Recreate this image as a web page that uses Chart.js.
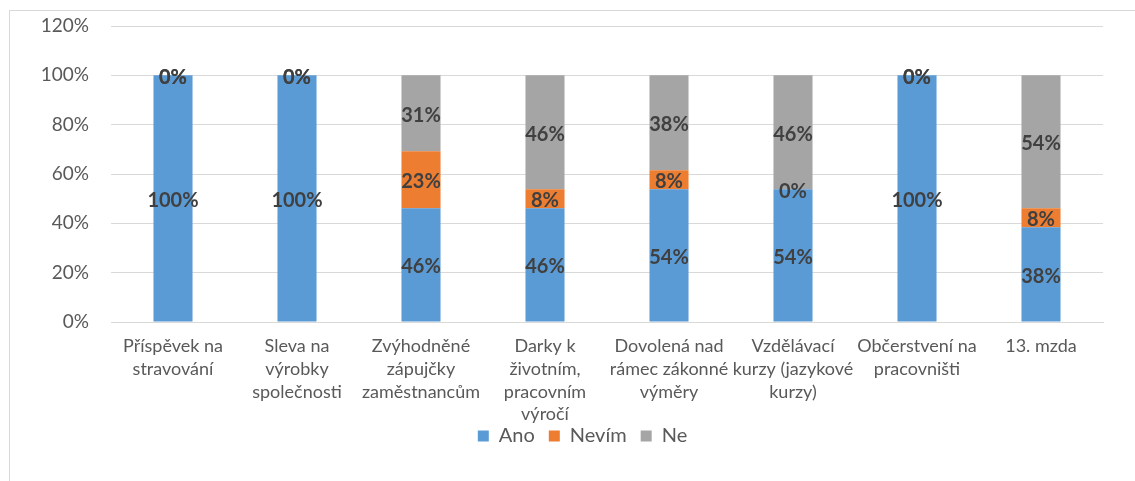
<!DOCTYPE html>
<html>
<head>
<meta charset="utf-8">
<script src="https://cdn.jsdelivr.net/npm/chart.js@4/dist/chart.umd.min.js"></script>
<style>
  html, body { margin: 0; padding: 0; background: #ffffff; }
  #frame { position: absolute; left: 9px; top: 10px; width: 1140px; height: 480px; border: 1px solid #d9d9d9; box-sizing: border-box; }
  #wrap { position: absolute; left: 0; top: 0; width: 1135px; height: 481px; }
</style>
</head>
<body>
<div id="frame"></div>
<div id="wrap"><canvas id="c"></canvas></div>
<script>
const categories = [
  ["Příspěvek na", "stravování"],
  ["Sleva na", "výrobky", "společnosti"],
  ["Zvýhodněné", "zápujčky", "zaměstnancům"],
  ["Darky k", "životním,", "pracovním", "výročí"],
  ["Dovolená nad", "rámec zákonné", "výměry"],
  ["Vzdělávací", "kurzy (jazykové", "kurzy)"],
  ["Občerstvení na", "pracovništi"],
  ["13. mzda"]
];
const seriesNames = ["Ano", "Nevím", "Ne"];
const ano   = [100, 100, 46.15, 46.15, 53.85, 53.85, 100, 38.46];
const nevim = [0, 0, 23.08, 7.69, 7.69, 0, 0, 7.69];
const ne    = [0, 0, 30.77, 46.15, 38.46, 46.15, 0, 53.85];
const yTicks = [0, 20, 40, 60, 80, 100, 120];

const colors = ["#5B9BD5", "#ED7D31", "#A5A5A5"];
const FONT = "Lato, 'Open Sans', sans-serif";
const PLOT_BOTTOM = 322;

const labelPlugin = {
  id: "segLabels",
  afterLayout(chart) {
    const lg = chart.legend;
    if (lg) {
      const h = lg.height;
      lg.left += 31; lg.right += 31;
      const ih = lg._itemHeight || 24;
      lg.top = 438 - 14 - ih / 2;
      lg.bottom = lg.top + h;
    }
  },
  afterDatasetsDraw(chart) {
    const ctx = chart.ctx;
    ctx.save();
    ctx.font = "bold 20px " + FONT;
    ctx.fillStyle = "#404040";
    ctx.textAlign = "center";
    ctx.textBaseline = "middle";
    chart.data.datasets.forEach((ds, di) => {
      const meta = chart.getDatasetMeta(di);
      meta.data.forEach((el, i) => {
        const v = ds.data[i];
        const cy = (el.y + el.base) / 2;
        ctx.fillText(Math.round(v) + "%", el.x, cy + 2);
      });
    });
    ctx.restore();
  }
};

new Chart(document.getElementById("c"), {
  type: "bar",
  data: {
    labels: categories,
    datasets: [
      { label: seriesNames[0], data: ano, backgroundColor: colors[0] },
      { label: seriesNames[1], data: nevim, backgroundColor: colors[1] },
      { label: seriesNames[2], data: ne, backgroundColor: colors[2] }
    ]
  },
  options: {
    responsive: true,
    maintainAspectRatio: false,
    animation: false,
    layout: { padding: { left: 0, right: 32, top: 26, bottom: 0 } },
    datasets: { bar: { categoryPercentage: 1, barPercentage: 0.315, borderWidth: 0 } },
    scales: {
      x: {
        stacked: true,
        grid: { display: false, drawTicks: false },
        border: { display: true, color: "#d9d9d9" },
        ticks: {
          autoSkip: false, maxRotation: 0, minRotation: 0, padding: 13,
          color: "#595959", font: { family: FONT, size: 18, lineHeight: 1.26 }
        },
        afterFit(scale) {
          const lh = scale.chart.legend ? scale.chart.legend.height : 47;
          scale.height = scale.chart.height - PLOT_BOTTOM - lh;
          scale.paddingLeft = 0; scale.paddingRight = 0;
        }
      },
      y: {
        stacked: true,
        min: 0, max: 120,
        afterBuildTicks(scale) { scale.ticks = yTicks.map(v => ({ value: v })); },
        grid: { color: "#d9d9d9", drawTicks: false },
        border: { display: false },
        ticks: {
          padding: 22, color: "#595959",
          font: { family: FONT, size: 19 },
          callback: v => v + "%"
        },
        afterFit(scale) { scale.width = 111; scale.paddingTop = 0; scale.paddingBottom = 0; }
      }
    },
    plugins: {
      legend: {
        position: "bottom",
        maxHeight: 51,
        labels: {
          boxWidth: 11, boxHeight: 11, padding: 14,
          color: "#595959", font: { family: FONT, size: 20 }
        }
      },
      tooltip: { enabled: false }
    }
  },
  plugins: [labelPlugin]
});
</script>
</body>
</html>
